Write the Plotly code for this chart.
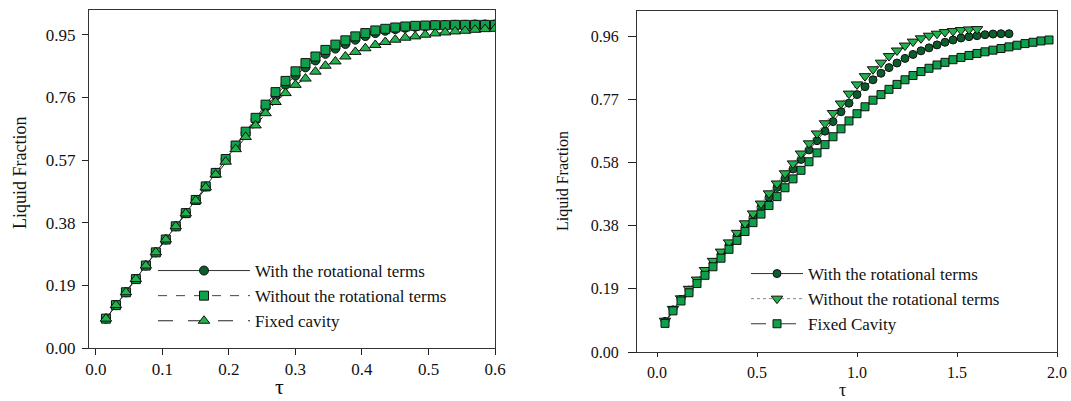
import plotly.graph_objects as go

# ---------------- Left panel data ----------------
tau_a = [0.015, 0.03, 0.045, 0.06, 0.075, 0.09, 0.105, 0.12, 0.135, 0.15,
         0.165, 0.18, 0.195, 0.21, 0.225, 0.24, 0.255, 0.27, 0.285, 0.30,
         0.315, 0.33, 0.345, 0.36, 0.375, 0.39, 0.405, 0.42, 0.435, 0.45,
         0.465, 0.48, 0.495, 0.51, 0.525, 0.54, 0.555, 0.57, 0.585, 0.60]
with_a = [0.089, 0.130, 0.169, 0.209, 0.250, 0.290, 0.329, 0.369, 0.409, 0.449,
          0.490, 0.531, 0.572, 0.612, 0.652, 0.692, 0.731, 0.766, 0.798, 0.826,
          0.851, 0.872, 0.892, 0.908, 0.922, 0.935, 0.946, 0.955, 0.962, 0.967,
          0.971, 0.974, 0.976, 0.978, 0.979, 0.980, 0.980, 0.981, 0.981, 0.981]
without_a = [0.089, 0.130, 0.169, 0.209, 0.250, 0.290, 0.329, 0.369, 0.409, 0.449,
             0.490, 0.531, 0.573, 0.614, 0.656, 0.698, 0.738, 0.776, 0.810, 0.839,
             0.864, 0.884, 0.904, 0.920, 0.933, 0.945, 0.955, 0.963, 0.968, 0.972,
             0.975, 0.977, 0.978, 0.979, 0.979, 0.980, 0.980, 0.980, 0.980, 0.980]
fixed_a = [0.089, 0.130, 0.169, 0.209, 0.250, 0.290, 0.329, 0.369, 0.408, 0.447,
           0.487, 0.526, 0.565, 0.603, 0.640, 0.675, 0.712, 0.746, 0.773, 0.798,
           0.817, 0.838, 0.856, 0.869, 0.884, 0.898, 0.909, 0.919, 0.928, 0.935,
           0.941, 0.945, 0.950, 0.954, 0.957, 0.960, 0.962, 0.965, 0.967, 0.968]
names_a = ["With the rotational terms", "Without the rotational terms", "Fixed cavity"]
xticks_a = [0.0, 0.1, 0.2, 0.3, 0.4, 0.5, 0.6]
xtext_a = ["0.0", "0.1", "0.2", "0.3", "0.4", "0.5", "0.6"]
yticks_a = [0.0, 0.19, 0.38, 0.57, 0.76, 0.95]
ytext_a = ["0.00", "0.19", "0.38", "0.57", "0.76", "0.95"]

# ---------------- Right panel data ----------------
tau_b = [0.04, 0.08, 0.12, 0.16, 0.20, 0.24, 0.28, 0.32, 0.36, 0.40,
         0.44, 0.48, 0.52, 0.56, 0.60, 0.64, 0.68, 0.72, 0.76, 0.80,
         0.84, 0.88, 0.92, 0.96, 1.00, 1.04, 1.08, 1.12, 1.16, 1.20,
         1.24, 1.28, 1.32, 1.36, 1.40, 1.44, 1.48, 1.52, 1.56, 1.60,
         1.64, 1.68, 1.72, 1.76, 1.80, 1.84, 1.88, 1.92, 1.96]
with_b = [0.093, 0.128, 0.160, 0.188, 0.215, 0.242, 0.270, 0.297, 0.325, 0.353,
          0.381, 0.410, 0.440, 0.470, 0.500, 0.528, 0.556, 0.585, 0.614, 0.642,
          0.671, 0.700, 0.730, 0.756, 0.782, 0.806, 0.827, 0.847, 0.864, 0.878,
          0.892, 0.904, 0.915, 0.924, 0.933, 0.941, 0.948, 0.954, 0.958, 0.961,
          0.964, 0.966, 0.967, 0.967]
without_b = [0.095, 0.131, 0.163, 0.192, 0.220, 0.249, 0.277, 0.305, 0.333, 0.362,
             0.391, 0.421, 0.451, 0.482, 0.512, 0.543, 0.573, 0.603, 0.634, 0.664,
             0.695, 0.726, 0.755, 0.785, 0.813, 0.838, 0.859, 0.879, 0.899, 0.916,
             0.931, 0.943, 0.953, 0.961, 0.967, 0.972, 0.975, 0.978, 0.980, 0.981]
fixed_b = [0.087, 0.125, 0.155, 0.180, 0.208, 0.233, 0.259, 0.285, 0.312, 0.339,
           0.366, 0.393, 0.419, 0.445, 0.472, 0.499, 0.526, 0.552, 0.578, 0.605,
           0.630, 0.654, 0.678, 0.702, 0.724, 0.745, 0.765, 0.782, 0.798, 0.813,
           0.827, 0.840, 0.852, 0.862, 0.872, 0.880, 0.888, 0.895, 0.901, 0.907,
           0.912, 0.917, 0.922, 0.927, 0.932, 0.937, 0.941, 0.945, 0.948]
names_b = ["With the rotational terms", "Without the rotational terms", "Fixed Cavity"]
xticks_b = [0.0, 0.5, 1.0, 1.5, 2.0]
xtext_b = ["0.0", "0.5", "1.0", "1.5", "2.0"]
yticks_b = [0.0, 0.192, 0.384, 0.576, 0.768, 0.96]
ytext_b = ["0.00", "0.19", "0.38", "0.58", "0.77", "0.96"]

# ---------------- styling ----------------
W, H = 1071, 401
SERIF = "Liberation Serif, Times New Roman, serif"
DARK = "#0b5e2c"
MID = "#0fa04c"
LIGHT = "#22b24c"
OUT = dict(color="#111111", width=1)

fig = go.Figure()

# left panel traces
fig.add_trace(go.Scatter(x=tau_a, y=with_a, name=names_a[0], mode="lines+markers",
                         line=dict(color="#333333", width=1, dash="solid"),
                         marker=dict(symbol="circle", size=9, color=DARK, line=OUT),
                         xaxis="x", yaxis="y", legend="legend"))
fig.add_trace(go.Scatter(x=tau_a, y=without_a, name=names_a[1], mode="lines+markers",
                         line=dict(color="#444444", width=1, dash="dash"),
                         marker=dict(symbol="square", size=9, color=MID, line=OUT),
                         xaxis="x", yaxis="y", legend="legend"))
fig.add_trace(go.Scatter(x=tau_a, y=fixed_a, name=names_a[2], mode="lines+markers",
                         line=dict(color="#222222", width=1, dash="longdash"),
                         marker=dict(symbol="triangle-up", size=10, color=LIGHT, line=OUT),
                         xaxis="x", yaxis="y", legend="legend"))

# right panel traces
fig.add_trace(go.Scatter(x=tau_b[:len(with_b)], y=with_b, name=names_b[0], mode="lines+markers",
                         line=dict(color="#333333", width=1, dash="solid"),
                         marker=dict(symbol="circle", size=8, color=DARK, line=OUT),
                         xaxis="x2", yaxis="y2", legend="legend2"))
fig.add_trace(go.Scatter(x=tau_b[:len(without_b)], y=without_b, name=names_b[1], mode="lines+markers",
                         line=dict(color="#888888", width=1, dash="dot"),
                         marker=dict(symbol="triangle-down", size=10, color=LIGHT, line=OUT),
                         xaxis="x2", yaxis="y2", legend="legend2"))
fig.add_trace(go.Scatter(x=tau_b[:len(fixed_b)], y=fixed_b, name=names_b[2], mode="lines+markers",
                         line=dict(color="#333333", width=1, dash="longdash"),
                         marker=dict(symbol="square", size=8, color=MID, line=OUT),
                         xaxis="x2", yaxis="y2", legend="legend2"))

def axis(domain, rng, tv, tt, ticklen, fsize, anchor, standoff):
    return dict(domain=domain, range=rng, tickmode="array", tickvals=tv, ticktext=tt,
                ticks="outside", ticklen=ticklen, tickwidth=1, tickcolor="#222222",
                showline=True, linecolor="#333333", linewidth=1, mirror=True,
                showgrid=False, zeroline=False, anchor=anchor, automargin=False,
                ticklabelstandoff=standoff,
                tickfont=dict(family=SERIF, size=fsize, color="#111111"))

def note(text, xpx, ypx, size, angle=0):
    return dict(text=text, x=xpx / W, y=1 - ypx / H, xref="paper", yref="paper",
                xanchor="center", yanchor="middle", textangle=angle, showarrow=False,
                font=dict(family=SERIF, size=size, color="#111111"))

fig.update_layout(
    width=W, height=H, margin=dict(l=0, r=0, t=0, b=0),
    paper_bgcolor="white", plot_bgcolor="white", showlegend=True,
    xaxis=axis([89 / W, 495 / W], [-0.0105, 0.6], xticks_a, xtext_a, 6, 17, "y", 0),
    yaxis=axis([1 - 348 / H, 1 - 10 / H], [0, 1.025], yticks_a, ytext_a, 6, 17, "x", 3),
    xaxis2=axis([637 / W, 1057 / W], [-0.1, 2.0], xticks_b, xtext_b, 4, 16, "y2", 2),
    yaxis2=axis([1 - 352 / H, 1 - 11 / H], [0, 1.036], yticks_b, ytext_b, 8, 16, "x2", 6),
    legend=dict(x=153 / W, y=1 - 253 / H, xanchor="left", yanchor="top",
                bgcolor="rgba(0,0,0,0)", borderwidth=0, itemwidth=92, tracegroupgap=0,
                font=dict(family=SERIF, size=17, color="#111111")),
    legend2=dict(x=746 / W, y=1 - 256 / H, xanchor="left", yanchor="top",
                 bgcolor="rgba(0,0,0,0)", borderwidth=0, itemwidth=52, tracegroupgap=0,
                 font=dict(family=SERIF, size=17, color="#111111")),
    annotations=[
        note("Liquid Fraction", 20, 173, 18, -90),
        note("τ", 279, 386, 22),
        note("Liquid Fraction", 563, 181, 16, -90),
        note("τ", 842, 390, 18),
    ],
)

fig.write_html("out.html")
